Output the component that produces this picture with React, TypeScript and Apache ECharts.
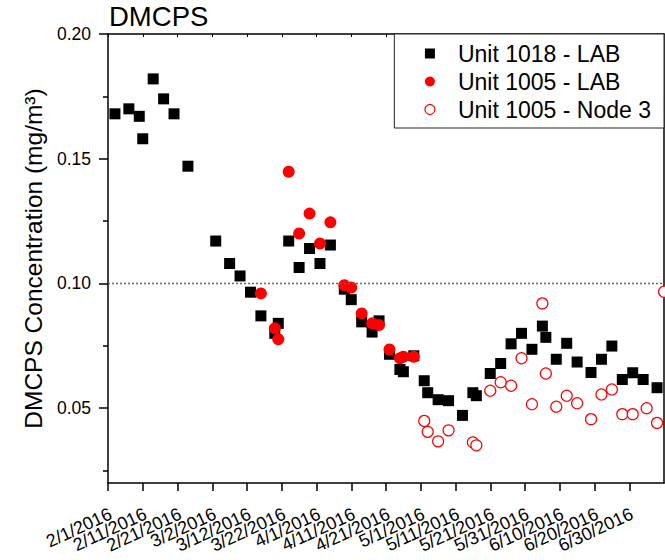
import React, { useEffect, useRef } from "react";
import * as echarts from "echarts";

const TITLE = "DMCPS";
const Y_NAME = "DMCPS Concentration (mg/m³)";
const SERIES_NAMES = ["Unit 1018 - LAB", "Unit 1005 - LAB", "Unit 1005 - Node 3"];

const X_START = "2016-02-01";
const X_END = "2016-07-10";
const X_TICK_DATES = [
  "2016-02-01", "2016-02-11", "2016-02-21", "2016-03-02", "2016-03-12", "2016-03-22",
  "2016-04-01", "2016-04-11", "2016-04-21", "2016-05-01", "2016-05-11", "2016-05-21",
  "2016-05-31", "2016-06-10", "2016-06-20", "2016-06-30",
];

const Y_MIN = 0.02;
const Y_MAX = 0.2;
const Y_MAJOR = [0.05, 0.1, 0.15, 0.2];
const Y_MINOR = [0.025, 0.075, 0.125, 0.175];
const LIMIT = 0.1;

const DATES_1018 = [
  "2016-02-03", "2016-02-07", "2016-02-10", "2016-02-11", "2016-02-14", "2016-02-17", "2016-02-20",
  "2016-02-24", "2016-03-03", "2016-03-07", "2016-03-10", "2016-03-13", "2016-03-16", "2016-03-20",
  "2016-03-21", "2016-03-24", "2016-03-27", "2016-03-30", "2016-04-02", "2016-04-05", "2016-04-09",
  "2016-04-11", "2016-04-14", "2016-04-17", "2016-04-19", "2016-04-22", "2016-04-25", "2016-04-26",
  "2016-04-29", "2016-05-02", "2016-05-03", "2016-05-06", "2016-05-09", "2016-05-13", "2016-05-16",
  "2016-05-17", "2016-05-21", "2016-05-24", "2016-05-27", "2016-05-30", "2016-06-02", "2016-06-05",
  "2016-06-06", "2016-06-09", "2016-06-12", "2016-06-15", "2016-06-19", "2016-06-22", "2016-06-25",
  "2016-06-28", "2016-07-01", "2016-07-04", "2016-07-08",
];
const VALUES_1018 = [
  0.168, 0.170, 0.167, 0.158, 0.182, 0.174, 0.168,
  0.147, 0.117, 0.108, 0.103, 0.0965, 0.087, 0.080,
  0.084, 0.117, 0.1064, 0.114, 0.108, 0.1154, 0.0977,
  0.0935, 0.0846, 0.0805, 0.085, 0.0716, 0.0655, 0.0646,
  0.071, 0.061, 0.0562, 0.0534, 0.053, 0.0471, 0.0562,
  0.055, 0.0639, 0.0679, 0.0758, 0.080, 0.0736, 0.0829,
  0.0784, 0.0696, 0.076, 0.0685, 0.0643, 0.0696, 0.0749,
  0.0615, 0.0642, 0.0615, 0.0582,
];

const DATES_1005_LAB = [
  "2016-03-16", "2016-03-20", "2016-03-21", "2016-03-24", "2016-03-27", "2016-03-30", "2016-04-02",
  "2016-04-05", "2016-04-09", "2016-04-11", "2016-04-14", "2016-04-17", "2016-04-19", "2016-04-22",
  "2016-04-25", "2016-04-26", "2016-04-29",
];
const VALUES_1005_LAB = [
  0.096, 0.082, 0.0776, 0.1448, 0.120, 0.128, 0.116,
  0.1245, 0.0993, 0.0984, 0.088, 0.084, 0.0833, 0.0735,
  0.070, 0.0706, 0.0706,
];

const DATES_1005_NODE3 = [
  "2016-05-02", "2016-05-03", "2016-05-06", "2016-05-09", "2016-05-16", "2016-05-17", "2016-05-21",
  "2016-05-24", "2016-05-27", "2016-05-30", "2016-06-02", "2016-06-05", "2016-06-06", "2016-06-09",
  "2016-06-12", "2016-06-15", "2016-06-19", "2016-06-22", "2016-06-25", "2016-06-28", "2016-07-01",
  "2016-07-05", "2016-07-08", "2016-07-10",
];
const VALUES_1005_NODE3 = [
  0.0449, 0.0405, 0.0367, 0.0411, 0.0363, 0.0351, 0.057,
  0.0604, 0.059, 0.070, 0.0516, 0.092, 0.0639, 0.0506,
  0.055, 0.052, 0.0456, 0.0555, 0.0575, 0.0476, 0.0476,
  0.050, 0.0441, 0.0967,
];

const ts = (s: string) => {
  const [y, m, d] = s.split("-").map(Number);
  return Date.UTC(y, m - 1, d);
};
const pairs = (dates: string[], vals: number[]) => dates.map((d, i) => [ts(d), vals[i]]);
const fmtDate = (v: number) => {
  const d = new Date(v);
  return `${d.getUTCMonth() + 1}/${d.getUTCDate()}/${d.getUTCFullYear()}`;
};

const FONT = "Liberation Sans, Arial, sans-serif";

export default function App() {
  const ref = useRef<HTMLDivElement>(null);
  useEffect(() => {
    document.body.style.margin = "0";
    if (!ref.current) return;
    const chart = echarts.init(ref.current, null, { renderer: "svg" });
    const xMin = ts(X_START);
    const xMax = ts(X_END);
    const tickVals = X_TICK_DATES.map(ts);
    const evenTicks = tickVals.filter((_, i) => i % 2 === 0);
    const oddTicks = tickVals.filter((_, i) => i % 2 === 1);
    const axisLine = { show: true, onZero: false, lineStyle: { color: "#000", width: 1.5 } };
    const xLabel = (values: number[]) => ({
      rotate: 25,
      margin: 31,
      padding: [0, -3, 0, 0],
      fontFamily: FONT,
      fontSize: 18,
      color: "#000",
      showMinLabel: true,
      showMaxLabel: true,
      customValues: values,
      formatter: (v: number) => fmtDate(v),
    });
    chart.setOption({
      animation: false,
      backgroundColor: "#fff",
      title: {
        text: TITLE,
        left: 109,
        top: 2,
        padding: 0,
        textStyle: { fontFamily: FONT, fontSize: 27.5, fontWeight: "normal", color: "#000" },
      },
      grid: {
        left: 108,
        right: 1,
        top: 34,
        bottom: 77,
        containLabel: false,
        outerBoundsMode: "none",
      },
      legend: {
        right: 1,
        top: 34,
        orient: "vertical",
        padding: [8, 13, 7, 30],
        itemGap: 5,
        itemWidth: 10,
        itemHeight: 10,
        borderColor: "#222",
        borderWidth: 1,
        backgroundColor: "#fff",
        textStyle: { fontFamily: FONT, fontSize: 23, color: "#000", padding: [0, 0, 0, 18] },
        data: [
          { name: SERIES_NAMES[0], icon: "rect", itemStyle: { color: "#000", opacity: 1 } },
          { name: SERIES_NAMES[1], icon: "circle", itemStyle: { color: "#ff0000", opacity: 1 } },
          {
            name: SERIES_NAMES[2],
            icon: "circle",
            itemStyle: { color: "#fff", borderColor: "#ff0000", borderWidth: 1.2, opacity: 1 },
          },
        ],
      },
      xAxis: [
        {
          type: "value",
          position: "bottom",
          min: xMin,
          max: xMax,
          axisLine,
          axisTick: {
            show: true,
            inside: false,
            length: 8,
            customValues: tickVals,
            lineStyle: { color: "#000", width: 1.5 },
          },
          axisLabel: xLabel(evenTicks),
          splitLine: { show: false },
        },
        {
          type: "value",
          position: "top",
          min: xMin,
          max: xMax,
          axisLine,
          axisTick: {
            show: true,
            inside: true,
            length: 3,
            customValues: tickVals,
            lineStyle: { color: "#000", width: 1 },
          },
          axisLabel: { show: false },
          splitLine: { show: false },
        },
        {
          type: "value",
          position: "bottom",
          min: xMin,
          max: xMax,
          axisLine: { show: false, onZero: false },
          axisTick: { show: false },
          axisLabel: xLabel(oddTicks),
          splitLine: { show: false },
        },
      ],
      yAxis: [
        {
          type: "value",
          position: "left",
          min: Y_MIN,
          max: Y_MAX,
          name: Y_NAME,
          nameLocation: "middle",
          nameGap: 62,
          nameTextStyle: { fontFamily: FONT, fontSize: 24.5, color: "#000" },
          axisLine,
          axisTick: {
            show: true,
            inside: false,
            length: 9,
            customValues: Y_MAJOR,
            lineStyle: { color: "#000", width: 1.5 },
          },
          axisLabel: {
            margin: 17,
            fontFamily: FONT,
            fontSize: 17.5,
            color: "#000",
            customValues: Y_MAJOR,
            formatter: (v: number) => v.toFixed(2),
          },
          splitLine: { show: false },
        },
        {
          type: "value",
          position: "left",
          min: Y_MIN,
          max: Y_MAX,
          axisLine: { show: false, onZero: false },
          axisTick: {
            show: true,
            inside: false,
            length: 5,
            customValues: Y_MINOR,
            lineStyle: { color: "#000", width: 1.5 },
          },
          axisLabel: { show: false },
          splitLine: { show: false },
        },
        {
          type: "value",
          position: "right",
          min: Y_MIN,
          max: Y_MAX,
          axisLine,
          axisTick: { show: false },
          axisLabel: { show: false },
          splitLine: { show: false },
        },
      ],
      series: [
        {
          name: SERIES_NAMES[0],
          type: "scatter",
          xAxisIndex: 0,
          yAxisIndex: 0,
          symbol: "rect",
          symbolSize: 11,
          itemStyle: { color: "#000", opacity: 1 },
          data: pairs(DATES_1018, VALUES_1018),
          markLine: {
            silent: true,
            symbol: "none",
            label: { show: false },
            lineStyle: { color: "#666", type: [2, 2], width: 1.3 },
            data: [{ yAxis: LIMIT }],
          },
        },
        {
          name: SERIES_NAMES[1],
          type: "scatter",
          xAxisIndex: 0,
          yAxisIndex: 0,
          symbol: "circle",
          symbolSize: 12,
          itemStyle: { color: "#ff0000", opacity: 1 },
          data: pairs(DATES_1005_LAB, VALUES_1005_LAB),
        },
        {
          name: SERIES_NAMES[2],
          type: "scatter",
          xAxisIndex: 0,
          yAxisIndex: 0,
          symbol: "circle",
          symbolSize: 11,
          itemStyle: { color: "#fff", borderColor: "#ff0000", borderWidth: 1.2, opacity: 1 },
          data: pairs(DATES_1005_NODE3, VALUES_1005_NODE3),
        },
      ],
    });
    return () => chart.dispose();
  }, []);
  return <div ref={ref} style={{ width: 665, height: 560 }} />;
}
